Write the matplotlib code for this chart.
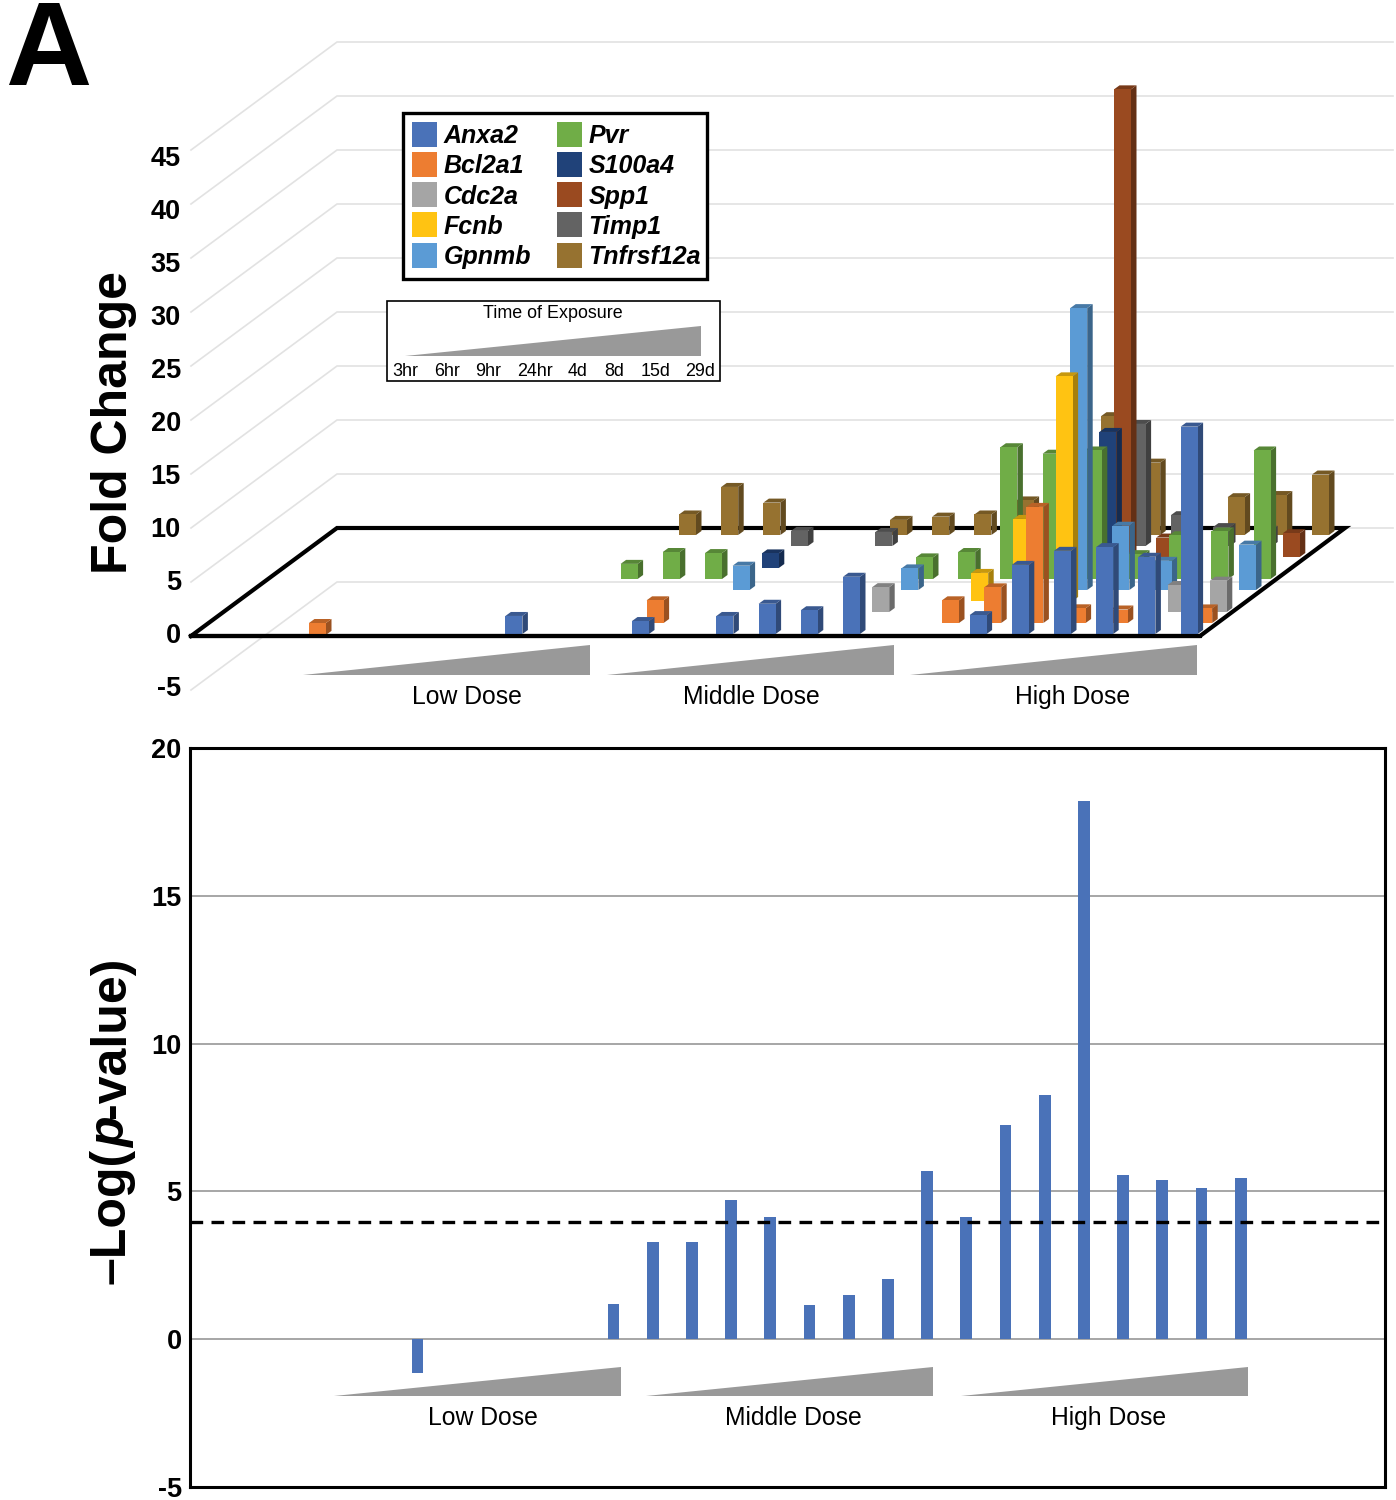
"""
Fold change bars per gene and time point (top), -log p-values (bottom).
"""

import matplotlib
matplotlib.use('Agg')
import matplotlib.pyplot as plt
from matplotlib.colors import to_rgb
from matplotlib.patches import Polygon, Rectangle

plt.rcParams['font.family'] = ['Liberation Sans', 'DejaVu Sans']

genes = ['Anxa2', 'Bcl2a1', 'Cdc2a', 'Fcnb', 'Gpnmb', 'Pvr', 'S100a4', 'Spp1', 'Timp1', 'Tnfrsf12a']
gene_colors = ['#4A72B8', '#ED7D31', '#A5A5A5', '#FFC312', '#5B9BD5',
               '#70AD47', '#204279', '#9A4A20', '#636363', '#967230']

# fold change per gene, 8 time points for low / middle / high dose, 0 = no bar
anxa2 = [0, 0, 0, 0, 0, 0, 0, 1.67, 0, 0, 1.2, 0, 1.67, 2.8, 2.2, 5.3, 0, 0, 1.75, 6.4, 7.7, 8.05, 7.15, 19.2]
bcl2a1 = [0, 0, -1.1, 0, 0, 0, 0, 0, 0, 0, 2.1, 0, 0, 0, 0, 0, 0, 2.1, 3.3, 10.75, 1.36, 1.25, 0, 1.35]
cdc2a = [0, 0, 0, 0, 0, 0, 0, 0, 0, 0, 0, 0, 0, 0, 0, 2.3, 0, 0, 0, 0, 0, 0, 2.5, 2.9]
fcnb = [0, 0, 0, 0, 0, 0, 0, 0, 0, 0, 0, 0, 0, 0, 0, 0, 0, 2.6, 7.6, 20.8, 0, 0, 0, 0]
gpnmb = [0, 0, 0, 0, 0, 0, 0, 0, 0, 0, 0, 2.25, 0, 0, 0, 2.0, 0, 0, 0, 26.1, 5.95, 2.7, 0, 4.2]
pvr = [0, 0, 0, 0, 0, 0, 0, 0, 1.4, 2.5, 2.4, 0, 0, 0, 0, 2.0, 2.5, 12.2, 11.6, 11.9, 2.3, 4.05, 4.4, 11.9]
s100a4 = [0, 0, 0, 0, 0, 0, 0, 0, 0, 0, 0, 1.35, 0, 0, 0, 0, 0, 0, 0, 12.6, 0, 0, 0, 0]
spp1 = [0, 0, 0, 0, 0, 0, 0, 0, 0, 0, 0, 0, 0, 0, 0, 0, 0, 0, 0, 43.3, 1.8, 0, 0, 2.2]
timp1 = [0, 0, 0, 0, 0, 0, 0, 0, 0, 0, 0, 1.4, 0, 1.3, 0, 0, 0, 0, 0, 11.3, 2.85, 1.75, 1.5, 0]
tnfrsf12a = [0, 0, 0, 0, 0, 0, 0, 0, 1.9, 4.45, 3.0, 0, 0, 1.4, 1.7, 1.9, 3.2, 0, 11.0, 6.7, 0, 3.5, 3.7, 5.6]
fold_change = [anxa2, bcl2a1, cdc2a, fcnb, gpnmb, pvr, s100a4, spp1, timp1, tnfrsf12a]

fold_ticks = [45, 40, 35, 30, 25, 20, 15, 10, 5, 0, -5]
time_labels = ['3hr', '6hr', '9hr', '24hr', '4d', '8d', '15d', '29d']
dose_labels = ['Low Dose', 'Middle Dose', 'High Dose']

# -log(p) per time point, 0 = no bar
log_p = [0, 0, -1.15, 0, 0, 0, 0, 1.2, 3.3, 3.3, 4.7, 4.15, 1.15, 1.5, 2.05, 5.7, 4.15, 7.25, 8.25, 18.2, 5.55, 5.4, 5.1, 5.45]
threshold = 3.95
log_ticks = [-5, 0, 5, 10, 15, 20]

GRAY = '#999999'
GRID = '#E2E2E2'


def project(slot, row, value):
    # oblique projection of (time slot, gene row, fold change) to pixels
    return 210 + 42.2 * slot + 14.6 * row, 634 - 11 * row - 10.8 * value


def shade(color, factor):
    return tuple(c * factor for c in to_rgb(color))


def draw_bar(ax, slot, row, value, color):
    x, y_base = project(slot, row, 0)
    _, y_val = project(slot, row, value)
    top, bottom = min(y_base, y_val), max(y_base, y_val)
    w, sx, sy = 17, 5.5, 4
    ax.add_patch(Polygon([(x + w, bottom), (x + w + sx, bottom - sy), (x + w + sx, top - sy), (x + w, top)],
                         fc=shade(color, 0.65), ec='none', zorder=3))
    ax.add_patch(Polygon([(x, top), (x + w, top), (x + w + sx, top - sy), (x + sx, top - sy)],
                         fc=shade(color, 0.78), ec='none', zorder=3))
    ax.add_patch(Rectangle((x, top), w, bottom - top, fc=color, ec='none', zorder=3))


def triangle(ax, x0, x1, y_bottom, y_top):
    ax.add_patch(Polygon([(x0, y_bottom), (x1, y_top), (x1, y_bottom)], fc=GRAY, ec='none'))


fig = plt.figure(figsize=(13.96, 15), dpi=100)

# bottom panel, real axes
ax_p = fig.add_axes([190 / 1396, 1 - 1487 / 1500, (1385 - 190) / 1396, (1487 - 748) / 1500])
ax_p.bar(range(len(log_p)), log_p, width=0.3, color='#4A72B8', zorder=3)
ax_p.axhline(threshold, color='black', lw=2.4, ls=(0, (3.8, 2.5)), zorder=4)
ax_p.set_xlim(-3.8, 26.68)
ax_p.set_ylim(-5, 20)
ax_p.set_yticks(log_ticks)
ax_p.set_yticklabels([str(t) for t in log_ticks], fontsize=19.5, fontweight='bold')
ax_p.set_xticks([])
ax_p.tick_params(axis='y', length=0, pad=6)
ax_p.grid(axis='y', color='#A6A6A6', lw=1.4, zorder=1)
ax_p.set_axisbelow(True)
for spine in ax_p.spines.values():
    spine.set_linewidth(2.2)

# overlay in image pixels for the oblique chart and annotations
ax = fig.add_axes([0, 0, 1, 1], facecolor='none')
ax.set_xlim(0, 1396)
ax.set_ylim(1500, 0)
ax.axis('off')

ax.text(5, 85, 'A', fontsize=86, fontweight='bold', ha='left', va='baseline')

# walls
for k in range(-1, 10):
    y_front, y_back = 636 - 54 * k, 528 - 54 * k
    if k != 0:
        ax.plot([191, 337, 1393], [y_front, y_back, y_back], color=GRID, lw=1.2, zorder=1)
    else:
        ax.plot([337, 1393], [y_back, y_back], color=GRID, lw=1.2, zorder=1)

# floor
ax.plot([191, 337, 1345, 1200, 191], [636, 528, 528, 636, 636], color='black', lw=3,
        solid_joinstyle='miter', zorder=2)

for y, t in zip(range(159, 700, 53), fold_ticks):
    ax.text(181, y, str(t), fontsize=19.5, fontweight='bold', ha='right', va='center')

ax.text(127, 422, 'Fold Change', fontsize=36, fontweight='bold', rotation=90,
        rotation_mode='anchor', ha='center', va='baseline')

# bars, back row first
for row in range(len(genes) - 1, -1, -1):
    for slot, value in enumerate(fold_change[row]):
        if value != 0:
            draw_bar(ax, slot, row, value, gene_colors[row])
ax.plot([191, 1200], [636, 636], color='black', lw=3, zorder=6)

# dose triangles and labels under both charts
for x0, cx, name in zip([303, 607, 910], [467, 751, 1073], dose_labels):
    triangle(ax, x0, x0 + 287, 675, 645)
    ax.text(cx, 697, name, fontsize=17.8, ha='center', va='center')
for x0, cx, name in zip([334, 646, 961], [483, 793, 1109], dose_labels):
    triangle(ax, x0, x0 + 287, 1396, 1367)
    ax.text(cx, 1418, name, fontsize=17.8, ha='center', va='center')

# gene legend
ax.add_patch(Rectangle((403, 113), 304, 166, fc='white', ec='black', lw=2.4, zorder=7))
for i, (name, color) in enumerate(zip(genes, gene_colors)):
    col, line = divmod(i, 5)
    y = 134 + 30.3 * line
    ax.add_patch(Rectangle((412 + 144.5 * col, y - 12.5), 25, 25, fc=color, ec='none', zorder=8))
    ax.text(444 + 144.5 * col, y + 2, name, fontsize=18, fontweight='bold', style='italic',
            ha='left', va='center', zorder=8)

# time legend
ax.add_patch(Rectangle((387, 301), 333, 80, fc='white', ec='black', lw=1.2, zorder=7))
ax.text(553, 314, 'Time of Exposure', fontsize=12.9, ha='center', va='center', zorder=8)
ax.add_patch(Polygon([(405, 356), (701, 326), (701, 356)], fc=GRAY, ec='none', zorder=8))
for cx, name in zip([405, 447, 488, 535, 578, 614, 656, 700], time_labels):
    ax.text(cx, 371, name, fontsize=12.9, ha='center', va='center', zorder=8)

# y label of the lower chart, three runs for the italic p
label_style = dict(fontsize=36, fontweight='bold', rotation=90, rotation_mode='anchor',
                   ha='left', va='baseline')
ax.text(125, 1284, '\u2013Log(', **label_style)
ax.text(125, 1148, 'p', style='italic', **label_style)
ax.text(125, 1117.5, '-value)', **label_style)

fig.savefig('out.png', dpi=100)
